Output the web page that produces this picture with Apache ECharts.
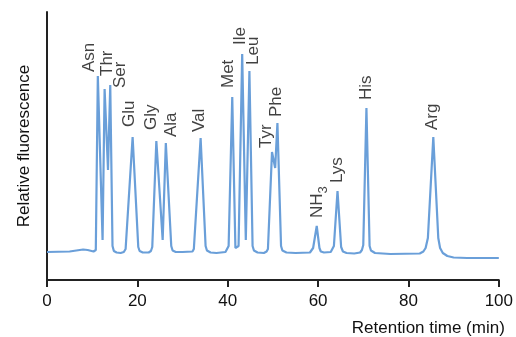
<!DOCTYPE html>
<html>
<head>
<meta charset="utf-8">
<script src="https://cdn.jsdelivr.net/npm/echarts@6/dist/echarts.min.js"></script>
<style>html,body{margin:0;padding:0;background:#fff}#c{width:516px;height:337px}</style>
</head>
<body>
<div id="c"></div>
<script>
// Chromatogram trace: [retention time (min), relative fluorescence]
const trace = [
  [0,28],[5,28.5],[8,30.5],[9,30],[10.3,28.5],[10.8,30],
  [11.25,204],[12.3,40],[12.75,191],[13.5,110],[14.0,195],
  [14.5,34],[14.8,29],[15.4,27.5],[16.3,27],[17.0,28],[17.4,31],
  [18.95,143],
  [20.2,33],[20.5,29],[21.2,27.5],[22.5,27.5],[23.0,29],[23.3,33],
  [24.2,139],[25.6,40],[26.3,137],
  [27.5,34],[27.8,29.5],[28.5,28],[30,28],[32.2,28.5],[32.5,31],
  [34.0,142],
  [35.1,34],[35.4,29.5],[36.2,27.5],[37.5,27],[39.5,28],[39.9,30],[40.2,34],
  [41.0,183],[41.7,32],[42.0,30],[42.4,34],
  [43.2,226],[44.0,40],[44.8,209],
  [45.5,34],[45.8,29.5],[46.6,27.5],[48,27],[48.6,28.5],[48.9,31],
  [49.8,128],[50.5,112],[51.0,157],
  [51.8,34],[52.1,29.5],[53,27.5],[55,27],[58.2,27.5],[58.6,29],[58.9,32],
  [59.7,54],
  [60.3,32],[60.6,28.5],[61.3,27.5],[62.8,28],[63.2,30],[63.5,34],
  [64.3,89],
  [65.1,33],[65.5,28.5],[66.3,27],[68,26.5],[69.3,27.5],[69.7,30],[70.0,35],
  [70.7,172],
  [71.4,34],[71.7,29.5],[72.6,27],[76,26],[82.5,26.5],[83.3,28.5],[83.8,32],[84.3,42],
  [85.5,143],
  [86.6,42],[87.0,32],[87.6,27],[88.6,24],[90,22.5],[93,22],[100,22]
];

// Peak labels
const peakNames = ['Asn','Thr','Ser','Glu','Gly','Ala','Val','Met','Ile','Leu','Tyr','Phe','NH3','Lys','His','Arg'];
const peakTimes = [11.25,12.75,14.0,18.95,24.2,26.3,34.0,41.0,43.2,44.8,49.8,51.0,59.7,64.3,70.7,85.5];
const peakHeights = [204,191,195,143,139,137,142,183,226,209,128,157,54,89,172,143];

const xTicks = [0,20,40,60,80,100];

// label placement (screen px: dx right, dy down) relative to apex
const labelShift = [[-9,-4],[3,-13],[10,3],[-3,-10],[-5,-11],[5,-6],[-1,-6],[-4,-9],[-2,-9],[4,-6],[-6,-4],[-1,-6],[1,-8],[0,-8],[0,-8],[-1,-7]];

const font = 'Liberation Sans, Arial, sans-serif';
const txt = '#111';

const peakData = peakNames.map((n,i)=>{
  const s = labelShift[i];
  return {
    value:[peakTimes[i], peakHeights[i]],
    name:n,
    label:{ offset:[-s[1], s[0]] }
  };
});

const chart = echarts.init(document.getElementById('c'), null, {renderer:'canvas'});
chart.setOption({
  animation:false,
  grid:{left:47,right:17,top:12,bottom:57},
  xAxis:{
    type:'value',min:xTicks[0],max:xTicks[xTicks.length-1],interval:20,
    axisLine:{lineStyle:{color:'#222',width:2}},
    axisTick:{show:true,length:7,lineStyle:{color:'#222',width:2}},
    splitLine:{show:false},
    axisLabel:{color:txt,fontSize:17,fontFamily:font,margin:13},
    name:'Retention time (min)',nameLocation:'end',nameGap:6,
    nameTextStyle:{color:txt,fontSize:17,fontFamily:font,align:'right',verticalAlign:'top',padding:[40,0,0,0]}
  },
  yAxis:{
    type:'value',min:0,max:268,
    axisLine:{show:true,lineStyle:{color:'#222',width:2}},
    axisTick:{show:false},axisLabel:{show:false},splitLine:{show:false},
    name:'Relative fluorescence',nameLocation:'middle',nameGap:14,
    nameTextStyle:{color:txt,fontSize:17,fontFamily:font}
  },
  series:[
    {type:'line',data:trace,showSymbol:false,smooth:false,
     lineStyle:{color:'#6a9fd9',width:2.2},z:2},
    {type:'scatter',data:peakData,symbolSize:0,z:3,
     label:{show:true,position:'inside',rotate:90,align:'left',verticalAlign:'middle',
       color:txt,fontSize:17,fontFamily:font,
       formatter:p=>p.name==='NH3'?'NH{s|3}':p.name,
       rich:{s:{fontSize:13,fontFamily:font,color:txt,verticalAlign:'bottom',lineHeight:24}}}
    }
  ]
});
</script>
</body>
</html>
